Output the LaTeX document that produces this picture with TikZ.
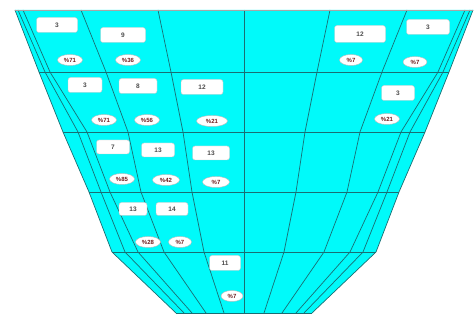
\documentclass[tikz,border=0pt]{standalone}
\usepackage{fontspec}
\setmainfont{Liberation Sans}
\usetikzlibrary{shapes.geometric}
\definecolor{funnel}{RGB}{0,250,250}
\definecolor{gridc}{RGB}{25,110,115}
\definecolor{pcttext}{RGB}{110,30,30}
\tikzset{
  gridline/.style={draw=gridc, line width=0.7pt},
  numbox/.style={draw=gray!45, fill=white, rounded corners=2.5pt, inner sep=0pt,
    minimum height=15pt, font=\fontsize{6.5}{7}\selectfont\bfseries, text=black!70},
  pctoval/.style={ellipse, draw=gray!55, fill=white, inner sep=0pt,
    minimum width=25pt, minimum height=11pt, font=\fontsize{6}{6}\selectfont\bfseries, text=pcttext}
}
\begin{document}
\begin{tikzpicture}[x=1pt,y=-1pt]
\useasboundingbox (0,0) rectangle (474,320);
\fill[white] (0,0) rectangle (474,320);
% funnel body
\fill[funnel] (244-229,10) -- (244-205,72) -- (244-181,132) -- (244-155,192) -- (244-132,252) -- (244-68,313)
  -- (244+68,313) -- (244+132,252) -- (244+155,192) -- (244+181,132) -- (244+205,72) -- (244+229,10) -- cycle;
% column lines
\foreach \a/\b/\c/\d/\e/\f in {86/73/61/52/40/20, 163/138/116/103/80/38, 221/194/157/134/106/52, 226/199/166/143/119/60, 229/205/181/155/132/68}{
  \draw[gridline] (244+\a,10) -- (244+\b,72) -- (244+\c,132) -- (244+\d,192) -- (244+\e,252) -- (244+\f,313);
  \draw[gridline] (244-\a,10) -- (244-\b,72) -- (244-\c,132) -- (244-\d,192) -- (244-\e,252) -- (244-\f,313);
}
\draw[gridline] (244,10) -- (244,313);
% row lines
\foreach \y/\w in {72/205, 132/181, 192/155, 252/132, 313/68}{
  \draw[gridline] (244-\w,\y) -- (244+\w,\y);
}
\draw[draw=gray!70, line width=0.8pt] (244-229,10) -- (244+229,10);
% number boxes
\node[numbox, minimum width=41pt] (r1a) at (57,25) {3};
\node[numbox, minimum width=45pt] (r1b) at (123,35) {9};
\node[numbox, minimum width=51pt, minimum height=17pt] (r1c) at (360,34) {12};
\node[numbox, minimum width=43pt] (r1d) at (428,27) {3};
\node[numbox, minimum width=34pt] (r2a) at (85,85) {3};
\node[numbox, minimum width=38pt] (r2b) at (138,86) {8};
\node[numbox, minimum width=42pt] (r2c) at (202,87) {12};
\node[numbox, minimum width=33pt] (r2d) at (398,93) {3};
\node[numbox, minimum width=33pt, minimum height=14pt] (r3a) at (113,147) {7};
\node[numbox, minimum width=33pt, minimum height=14pt] (r3b) at (158,150) {13};
\node[numbox, minimum width=37pt, minimum height=14pt] (r3c) at (211,153) {13};
\node[numbox, minimum width=28pt, minimum height=13pt] (r4a) at (133,209) {13};
\node[numbox, minimum width=32pt, minimum height=13pt] (r4b) at (172,209) {14};
\node[numbox, minimum width=31pt] (r5a) at (225,263) {11};
% percentage ovals
\node[pctoval] (e1a) at (70,60) {\%71};
\node[pctoval] (e1b) at (128,60) {\%36};
\node[pctoval, minimum width=23pt] (e1c) at (351,60) {\%7};
\node[pctoval, minimum width=24pt] (e1d) at (415,62) {\%7};
\node[pctoval] (e2a) at (104,120) {\%71};
\node[pctoval] (e2b) at (147,120) {\%56};
\node[pctoval, minimum width=31pt] (e2c) at (212,121) {\%21};
\node[pctoval] (e2d) at (387,119) {\%21};
\node[pctoval] (e3a) at (122,179) {\%85};
\node[pctoval, minimum width=27pt] (e3b) at (166,180) {\%42};
\node[pctoval, minimum width=27pt] (e3c) at (216,182) {\%7};
\node[pctoval] (e4a) at (148,242) {\%28};
\node[pctoval, minimum width=23pt] (e4b) at (180,242) {\%7};
\node[pctoval, minimum width=22pt] (e5a) at (232,296) {\%7};
\end{tikzpicture}
\end{document}
